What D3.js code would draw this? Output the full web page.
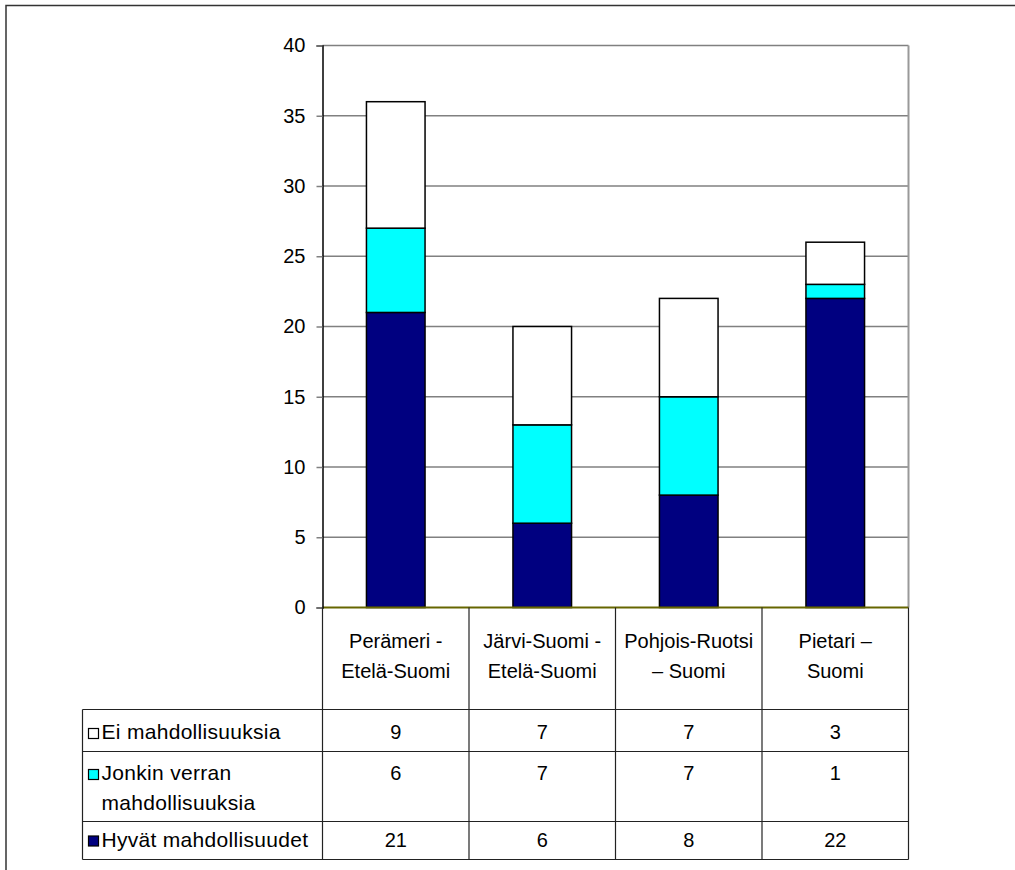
<!DOCTYPE html>
<html>
<head>
<meta charset="utf-8">
<script src="https://cdn.jsdelivr.net/npm/d3@7"></script>
<style>
  body { margin: 0; background: #fff; }
  svg text { font-family: "Liberation Sans", Arial, sans-serif; font-size: 20px; fill: #000; }
  svg text.legend { font-size: 21px; letter-spacing: 0.3px; }
</style>
</head>
<body>
<svg id="chart"></svg>
<script>
// Data
const categories = [
  ["Perämeri -", "Etelä-Suomi"],
  ["Järvi-Suomi -", "Etelä-Suomi"],
  ["Pohjois-Ruotsi", "– Suomi"],
  ["Pietari –", "Suomi"]
];
const seriesNames = ["Hyvät mahdollisuudet", "Jonkin verran mahdollisuuksia", "Ei mahdollisuuksia"];
const hyvat = [21, 6, 8, 22];
const jonkin = [6, 7, 7, 1];
const ei = [9, 7, 7, 3];
const yTicks = [0, 5, 10, 15, 20, 25, 30, 35, 40];

const colors = ["#000080", "#00ffff", "#ffffff"];

const W = 1015, H = 870;
const plot = { left: 322.5, right: 908.5, top: 45.5, bottom: 607.5 };

const svg = d3.select("#chart").attr("width", W).attr("height", H);

// outer frame (only top and left edges are inside the window)
svg.append("path")
  .attr("d", "M6,870 V5.5 H1015")
  .attr("fill", "none")
  .attr("stroke", "#333")
  .attr("stroke-width", 1.5);

const x = d3.scaleBand()
  .domain(d3.range(categories.length))
  .range([plot.left, plot.right])
  .paddingInner(0.6)
  .paddingOuter(0.3);

const y = d3.scaleLinear()
  .domain([0, 40])
  .range([plot.bottom, plot.top]);

// gridlines
svg.append("g")
  .selectAll("line")
  .data(yTicks.filter((d) => d > 0))
  .enter()
  .append("line")
  .attr("x1", plot.left)
  .attr("x2", plot.right)
  .attr("y1", (d) => y(d))
  .attr("y2", (d) => y(d))
  .attr("stroke", "#808080")
  .attr("stroke-width", 1.5);

// right border of plot area
svg.append("line")
  .attr("x1", plot.right).attr("x2", plot.right)
  .attr("y1", plot.top).attr("y2", plot.bottom)
  .attr("stroke", "#999")
  .attr("stroke-width", 2);

// stacked bars
const rows = categories.map((c, i) => ({ i: i, a: hyvat[i], b: jonkin[i], c: ei[i] }));
const stack = d3.stack().keys(["a", "b", "c"])(rows);

svg.append("g")
  .selectAll("g")
  .data(stack)
  .enter()
  .append("g")
  .attr("fill", (d, k) => colors[k])
  .selectAll("rect")
  .data((d) => d)
  .enter()
  .append("rect")
  .attr("x", (d) => x(d.data.i))
  .attr("y", (d) => y(d[1]))
  .attr("width", x.bandwidth())
  .attr("height", (d) => y(d[0]) - y(d[1]))
  .attr("stroke", "#000")
  .attr("stroke-width", 1.5);

// zero line
svg.append("line")
  .attr("x1", plot.left).attr("x2", plot.right)
  .attr("y1", y(0)).attr("y2", y(0))
  .attr("stroke", "#666600")
  .attr("stroke-width", 2);

// y axis
const yAxis = svg.append("g")
  .attr("transform", "translate(" + plot.left + ",0)")
  .call(d3.axisLeft(y).tickValues(yTicks).tickSize(6).tickPadding(11));
yAxis.select(".domain").attr("stroke", "#000").attr("stroke-width", 1.5);
yAxis.selectAll(".tick line").attr("stroke", "#808080").attr("stroke-width", 1.5);
yAxis.selectAll(".tick text")
  .style("font-family", "'Liberation Sans', Arial, sans-serif")
  .style("font-size", "20px")
  .attr("fill", "#000");

// data table
const tbl = { left: 82.5, header: 709.5, r1: 751.5, r2: 821.5, bottom: 859.5 };
const t = svg.append("g").attr("stroke", "#222").attr("stroke-width", 1.2);

// vertical lines of the columns
const colEdges = d3.range(categories.length + 1).map((i) =>
  i < categories.length ? x(i) - x.step() * 0.3 : plot.right);
t.selectAll("line.v")
  .data(colEdges)
  .enter()
  .append("line")
  .attr("x1", (d) => d).attr("x2", (d) => d)
  .attr("y1", plot.bottom).attr("y2", tbl.bottom);
t.append("line")
  .attr("x1", tbl.left).attr("x2", tbl.left)
  .attr("y1", tbl.header).attr("y2", tbl.bottom);
t.selectAll("line.h")
  .data([tbl.header, tbl.r1, tbl.r2, tbl.bottom])
  .enter()
  .append("line")
  .attr("x1", tbl.left).attr("x2", plot.right)
  .attr("y1", (d) => d).attr("y2", (d) => d);

const cx = (i) => x(i) + x.bandwidth() / 2;

// category labels
categories.forEach((lines, i) => {
  lines.forEach((line, j) => {
    svg.append("text")
      .attr("x", cx(i))
      .attr("y", 648 + j * 30)
      .attr("text-anchor", "middle")
      .text(line);
  });
});

// table rows, top to bottom
const tableRows = [
  { name: ["Ei mahdollisuuksia"], values: ei, color: colors[2], base: 739 },
  { name: ["Jonkin verran", "mahdollisuuksia"], values: jonkin, color: colors[1], base: 780 },
  { name: ["Hyvät mahdollisuudet"], values: hyvat, color: colors[0], base: 846.5 }
];

tableRows.forEach((r) => {
  svg.append("rect")
    .attr("x", 88.5)
    .attr("y", r.base - 10.5)
    .attr("width", 10)
    .attr("height", 10)
    .attr("fill", r.color)
    .attr("stroke", "#000")
    .attr("stroke-width", 1.2);
  r.name.forEach((line, j) => {
    svg.append("text")
      .attr("class", "legend")
      .attr("x", 101.5)
      .attr("y", r.base + j * 30)
      .text(line);
  });
  r.values.forEach((v, i) => {
    svg.append("text")
      .attr("x", cx(i))
      .attr("y", r.base)
      .attr("text-anchor", "middle")
      .text(v);
  });
});
</script>
</body>
</html>
